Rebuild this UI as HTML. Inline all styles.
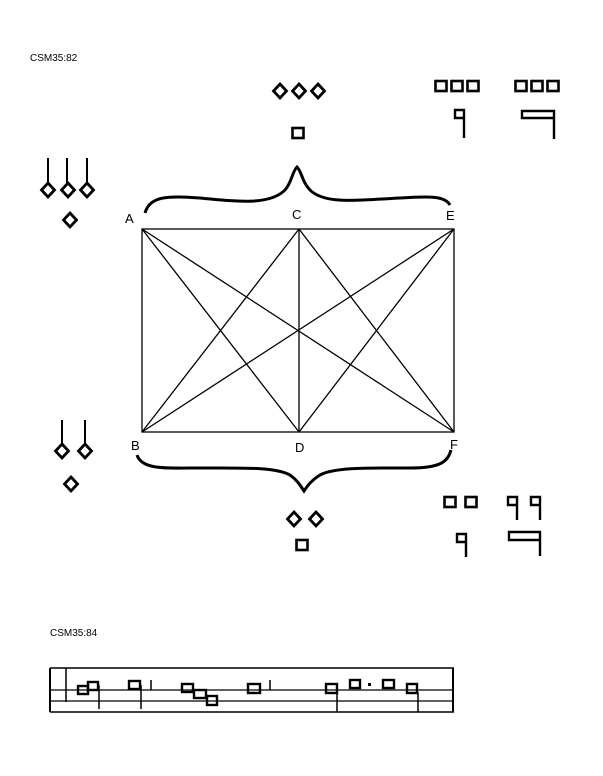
<!DOCTYPE html>
<html><head><style>
html,body{margin:0;padding:0;background:#fff;}
svg{display:block}
text{font-family:"Liberation Sans",sans-serif;}
</style></head><body>
<svg width="603" height="776" viewBox="0 0 603 776" xmlns="http://www.w3.org/2000/svg">
<defs>
<g id="dm"><polygon points="0,-7 6.5,0 0,7 -6.5,0" fill="none" stroke="#000" stroke-width="2.8"/></g>
<g id="sq"><rect x="-5.5" y="-5" width="11" height="10" fill="none" stroke="#000" stroke-width="2.6"/></g>
</defs>
<text x="30" y="61" font-size="10">CSM35:82</text>
<text x="50" y="636" font-size="10">CSM35:84</text>

<use href="#dm" x="280" y="91"/><use href="#dm" x="299" y="91"/><use href="#dm" x="318" y="91"/>
<use href="#sq" x="298" y="133"/>
<use href="#sq" x="441" y="86"/><use href="#sq" x="457" y="86"/><use href="#sq" x="473" y="86"/>
<use href="#sq" x="521" y="86"/><use href="#sq" x="537" y="86"/><use href="#sq" x="553" y="86"/>
<path d="M455,110 h9 v8 h-9 z M464,110 v28" fill="none" stroke="#000" stroke-width="2.4"/>
<path d="M522,111 h32 v7 h-32 z M554,111 v28" fill="none" stroke="#000" stroke-width="2.4"/>
<path d="M48,158 v25 M67,158 v25 M87,158 v25" stroke="#000" stroke-width="2"/>
<use href="#dm" x="48" y="190"/><use href="#dm" x="68" y="190"/><use href="#dm" x="87" y="190"/>
<use href="#dm" x="70" y="220"/>
<path d="M62,420 v23 M85,420 v23" stroke="#000" stroke-width="2"/>
<use href="#dm" x="62" y="451"/><use href="#dm" x="85" y="451"/>
<use href="#dm" x="71" y="484"/>
<use href="#dm" x="294" y="519"/><use href="#dm" x="316" y="519"/>
<use href="#sq" x="302" y="545"/>
<use href="#sq" x="450" y="502"/><use href="#sq" x="471" y="502"/>
<path d="M508,497 h9 v8 h-9 z M517,497 v23 M531,497 h9 v8 h-9 z M540,497 v23" fill="none" stroke="#000" stroke-width="2.4"/>
<path d="M457,534 h9 v8 h-9 z M466,534 v23" fill="none" stroke="#000" stroke-width="2.4"/>
<path d="M509,532 h31 v8 h-31 z M540,532 v24" fill="none" stroke="#000" stroke-width="2.4"/>

<text x="125" y="223" font-size="13">A</text>
<text x="292" y="219" font-size="13">C</text>
<text x="446" y="220" font-size="13">E</text>
<text x="131" y="450" font-size="13">B</text>
<text x="295" y="452" font-size="13">D</text>
<text x="450" y="449" font-size="13">F</text>

<path d="M145,213 C150,195 170,196 200,198 C240,202 270,205 285,190 C292,182 292,172 297,167 C302,172 302,182 310,190 C325,205 360,200 400,198 C430,196 445,196 450,205" fill="none" stroke="#000" stroke-width="3"/>
<path d="M137,455 C142,470 165,468 200,468 C245,468 275,467 290,475 C297,480 300,485 304,491 C308,485 312,480 320,475 C335,467 370,468 410,468 C440,468 448,462 451,450" fill="none" stroke="#000" stroke-width="3"/>

<g stroke="#000" stroke-width="1.3" fill="none">
<rect x="142" y="229" width="312" height="203"/>
<line x1="299" y1="229" x2="299" y2="432"/>
<line x1="142" y1="229" x2="454" y2="432"/>
<line x1="142" y1="432" x2="454" y2="229"/>
<line x1="142" y1="229" x2="299" y2="432"/>
<line x1="142" y1="432" x2="299" y2="229"/>
<line x1="299" y1="229" x2="454" y2="432"/>
<line x1="299" y1="432" x2="454" y2="229"/>
</g>

<g stroke="#000" fill="none">
<line x1="50" y1="668" x2="454" y2="668" stroke-width="1.6"/>
<line x1="50" y1="690" x2="454" y2="690" stroke-width="1.2"/>
<line x1="50" y1="701" x2="454" y2="701" stroke-width="1.2"/>
<line x1="50" y1="712" x2="454" y2="712" stroke-width="1.6"/>
<line x1="50" y1="668" x2="50" y2="712" stroke-width="2"/>
<line x1="453" y1="668" x2="453" y2="712" stroke-width="2"/>
<line x1="66" y1="668" x2="66" y2="702" stroke-width="1.5"/>
<line x1="99" y1="685" x2="99" y2="709" stroke-width="1.5"/>
<line x1="141" y1="685" x2="141" y2="709" stroke-width="1.5"/>
<line x1="151" y1="680" x2="151" y2="690" stroke-width="1.5"/>
<line x1="270" y1="680" x2="270" y2="690" stroke-width="1.5"/>
<line x1="337" y1="692" x2="337" y2="712" stroke-width="1.5"/>
<line x1="418" y1="692" x2="418" y2="712" stroke-width="1.5"/>
<g stroke-width="2.4">
<rect x="78" y="686" width="10" height="8"/>
<rect x="88" y="682" width="10" height="8"/>
<rect x="129" y="681" width="11" height="8"/>
<rect x="182" y="684" width="11" height="8"/>
<rect x="194" y="690" width="12" height="8"/>
<rect x="207" y="696" width="10" height="9"/>
<rect x="248" y="684" width="12" height="9"/>
<rect x="326" y="684" width="11" height="9"/>
<rect x="350" y="680" width="10" height="8"/>
<rect x="383" y="680" width="11" height="8"/>
<rect x="407" y="684" width="10" height="9"/>
</g>
<rect x="368" y="683" width="3" height="3" fill="#000" stroke="none"/>
</g>
</svg>
</body></html>
